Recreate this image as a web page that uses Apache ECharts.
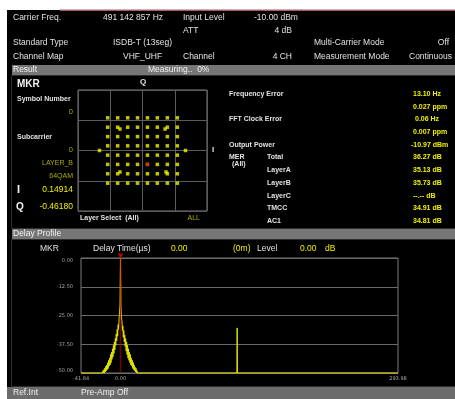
<!DOCTYPE html>
<html>
<head>
<meta charset="utf-8">
<script src="https://cdn.jsdelivr.net/npm/echarts@6/dist/echarts.min.js"></script>
<style>
  html, body { margin: 0; padding: 0; background: #ffffff; }
  #screen { width: 455px; height: 399px; }
</style>
</head>
<body>
<div id="screen"></div>
<script>
// ---- Measurement setup ----
const setupLeft = [
  ['Carrier Freq.', '491 142 857 Hz'],
  ['Standard Type', 'ISDB-T (13seg)'],
  ['Channel Map', 'VHF_UHF']
];
const inputLevel = '-10.00 dBm';
const attValue = '4 dB';
const channelValue = '4 CH';
const multiCarrierMode = 'Off';
const measurementMode = 'Continuous';
const measuringState = 'Measuring..  0%';

// ---- Constellation (normalised I/Q) ----
const qamLevels = [-1.08, -0.77, -0.46, -0.154, 0.154, 0.46, 0.77, 1.08];
const pilotPoints = [[-1.333, 0], [1.333, 0]];
const spreadPoints = [[-0.70, 0.71], [0.70, 0.71], [-0.70, -0.71], [0.73, -0.71]];
const markerI = 0.14914;
const markerQ = -0.46180;
const symbolNumber = '0';
const subcarrier = '0';
const markerLayer = 'LAYER_B';
const markerModulation = '64QAM';
const layerSelect = 'ALL';

// ---- Result values ----
const resultLabels = ['Frequency Error', '', 'FFT Clock Error', '', 'Output Power'];
const resultValues = ['13.10 Hz', '0.027 ppm', '0.06 Hz', '0.007 ppm', '-10.97 dBm'];
const merLabels = ['Total', 'LayerA', 'LayerB', 'LayerC', 'TMCC', 'AC1'];
const merValues = ['36.27 dB', '35.13 dB', '35.73 dB', '--.-- dB', '34.91 dB', '34.81 dB'];

// ---- Delay profile ----
const delayMin = -41.84;
const delayMax = 293.98;
const levelMin = -50;
const levelMax = 0;
const levelStep = 12.5;
const delayLabelValues = [-41.84, 0, 293.98];
const markerTime = 0.00;
const markerLevel = 0.00;
const markerDistance = '(0m)';
// main path (µs, dB)
const profileTime = [
  -41.84, -19, -18.5, -18, -17.5, -17, -16.5, -16, -15.5, -15, -14.5, -14, -13.5, -13,
  -12.5, -12, -11.5, -11, -10.5, -10, -9.5, -9, -8.5, -8, -7.5, -7, -6.5, -6, -5.5, -5,
  -4.5, -4, -3.5, -3, -2.5, -2, -1.5, -1, -0.5, 0, 0.5, 1, 1.5, 2, 2.5, 3, 3.5, 4, 4.5,
  5, 5.5, 6, 6.5, 7, 7.5, 8, 8.5, 9, 9.5, 10, 10.5, 11, 11.5, 12, 12.5, 13, 13.5, 14,
  14.5, 15, 15.5, 16, 16.5, 17, 17.5, 18,
  123.3, 123.6, 123.9, 293.98
];
const profileLevel = [
  -50, -50, -49, -50, -48.5, -50, -47.8, -49.5, -47, -49, -46.5, -48.5, -45.5, -48,
  -44.5, -47, -43.5, -46.5, -42, -45.5, -41, -44, -39.5, -43, -38, -41.5, -36.5, -40, -35, -38,
  -33, -36, -31, -34, -29, -31, -26.5, -27, -20, 0, -21, -26, -27, -31.5, -29.5, -34.5, -31.5, -36.5, -33.5,
  -38.5, -35, -40.5, -36.5, -42, -38, -43.5, -39.5, -44.5, -41, -45.5, -42, -46.5, -43.5, -47, -44.5, -48, -45.5, -48.5,
  -46.5, -49, -47.5, -49.5, -48, -50, -49, -50,
  -50, -30.4, -50, -50
];

// ---- build chart data ----
const constellation = [];
qamLevels.forEach(q => qamLevels.forEach(i => constellation.push([i, q])));
pilotPoints.forEach(p => constellation.push(p));
spreadPoints.forEach(p => constellation.push(p));
const profileData = profileTime.map((t, k) => [t, profileLevel[k]]);

// ---- screen layout helpers ----
const FONT = "'Liberation Sans', Arial, sans-serif";
const WHITE = '#e2e2e2';
const YELLOW = '#f0f000';
const OLIVE = '#aaaa00';
const BAR = '#767676';

function text(x, y, s, opt) {
  opt = opt || {};
  return {
    type: 'text', x: x, y: y, z: 20, silent: true,
    style: {
      text: s,
      fill: opt.color || WHITE,
      fontSize: opt.size || 8.5,
      fontWeight: opt.bold ? 'bold' : 'normal',
      fontFamily: FONT,
      textAlign: opt.align || 'left',
      textVerticalAlign: 'middle'
    }
  };
}
function rect(x, y, w, h, fill, z) {
  return { type: 'rect', z: z == null ? -10 : z, silent: true,
    shape: { x: x, y: y, width: w, height: h }, style: { fill: fill } };
}
function frame(x, y, w, h, stroke) {
  return { type: 'rect', z: -9, silent: true,
    shape: { x: x, y: y, width: w, height: h },
    style: { fill: 'none', stroke: stroke, lineWidth: 1 } };
}

const g = [];
// screen body
g.push(rect(7, 10, 448, 389, '#000000'));
g.push(rect(60, 9.5, 395, 1.5, '#a85a6c', -8));
// section bars
g.push(rect(12, 65, 443, 10, BAR, -8));
g.push(rect(12, 229, 443, 10, BAR, -8));
g.push(rect(7, 387, 448, 12, '#6c6c6c', -8));
g.push(frame(11.5, 75.5, 450, 153, '#2e2e2e'));
g.push(frame(11.5, 239.5, 450, 147, '#2e2e2e'));

// setup header
const setupRowY = [18, 43, 57];
const setupValueX = [103, 113, 123];
setupLeft.forEach((r, k) => {
  g.push(text(13, setupRowY[k], r[0]));
  g.push(text(setupValueX[k], setupRowY[k], r[1]));
});
g.push(text(183, 18, 'Input Level'));
g.push(text(254, 18, inputLevel));
g.push(text(183, 31, 'ATT'));
g.push(text(292, 31, attValue, { align: 'right' }));
g.push(text(183, 57, 'Channel'));
g.push(text(292, 57, channelValue, { align: 'right' }));
g.push(text(314, 43, 'Multi-Carrier Mode'));
g.push(text(449, 43, multiCarrierMode, { align: 'right' }));
g.push(text(314, 57, 'Measurement Mode'));
g.push(text(409, 57, measurementMode));

// Result bar
g.push(text(13, 70, 'Result', { color: '#f0f0f0' }));
g.push(text(148, 70, measuringState, { color: '#f0f0f0' }));

// marker readout beside constellation
g.push(text(17, 84, 'MKR', { bold: true, size: 10, color: '#f2f2f2' }));
g.push(text(17, 99, 'Symbol Number', { bold: true, size: 7 }));
g.push(text(73, 112, symbolNumber, { color: OLIVE, size: 7.5, align: 'right' }));
g.push(text(17, 137, 'Subcarrier', { bold: true, size: 7 }));
g.push(text(73, 150, subcarrier, { color: OLIVE, size: 7.5, align: 'right' }));
g.push(text(73, 163, markerLayer, { color: OLIVE, size: 7, align: 'right' }));
g.push(text(73, 176, markerModulation, { color: OLIVE, size: 7, align: 'right' }));
g.push(text(17, 190, 'I', { bold: true, size: 11, color: '#f2f2f2' }));
g.push(text(73, 190, markerI.toFixed(5), { color: YELLOW, size: 8.5, align: 'right' }));
g.push(text(16, 207, 'Q', { bold: true, size: 10, color: '#f2f2f2' }));
g.push(text(73, 207, markerQ.toFixed(5), { color: YELLOW, size: 8.5, align: 'right' }));
g.push(text(143, 82, 'Q', { bold: true, size: 8, align: 'center' }));
g.push(text(212, 150, 'I', { bold: true, size: 8 }));
g.push(text(80, 218, 'Layer Select  (All)', { bold: true, size: 7 }));
g.push(text(200, 218, layerSelect, { color: OLIVE, size: 7, align: 'right' }));

// numeric results
const rowY0 = 94, rowStep = 12.7;
const valueX = [413, 413, 415, 413, 411];
resultLabels.forEach((s, k) => {
  if (s) g.push(text(229, rowY0 + k * rowStep, s, { bold: true, size: 7 }));
  g.push(text(valueX[k], rowY0 + k * rowStep, resultValues[k], { bold: true, size: 7, color: YELLOW }));
});
g.push(text(229, rowY0 + 5 * rowStep, 'MER', { bold: true, size: 7 }));
g.push(text(232, rowY0 + 5.55 * rowStep, '(All)', { bold: true, size: 7 }));
merLabels.forEach((s, k) => {
  const y = rowY0 + (5 + k) * rowStep;
  g.push(text(267, y, s, { bold: true, size: 7 }));
  g.push(text(413, y, merValues[k], { bold: true, size: 7, color: YELLOW }));
});

// Delay profile header
g.push(text(13, 234, 'Delay Profile', { color: '#f0f0f0' }));
g.push(text(40, 249, 'MKR'));
g.push(text(93, 249, 'Delay Time(\u00b5s)'));
g.push(text(171, 249, markerTime.toFixed(2), { color: YELLOW }));
g.push(text(233, 249, markerDistance, { color: YELLOW }));
g.push(text(257, 249, 'Level'));
g.push(text(300, 249, markerLevel.toFixed(2), { color: YELLOW }));
g.push(text(325, 249, 'dB', { color: YELLOW }));

// status bar
g.push(text(13, 393, 'Ref.Int', { color: '#f0f0f0' }));
g.push(text(81, 393, 'Pre-Amp Off', { color: '#f0f0f0' }));

const chart = echarts.init(document.getElementById('screen'), null, { renderer: 'canvas' });
chart.setOption({
  animation: false,
  backgroundColor: 'transparent',
  graphic: { elements: g },
  grid: [
    { left: 78, top: 90, width: 129, height: 121, show: true, borderColor: '#7a7a7a', borderWidth: 1, backgroundColor: 'transparent' },
    { left: 81, top: 258, width: 317, height: 115, show: true, borderColor: '#7a7a7a', borderWidth: 1, backgroundColor: 'transparent' }
  ],
  xAxis: [
    {
      gridIndex: 0, type: 'value', min: -2, max: 2, interval: 1,
      axisLine: { show: false }, axisTick: { show: false }, axisLabel: { show: false },
      splitLine: { show: true, lineStyle: { color: '#5c5c5c', width: 1 } }
    },
    {
      gridIndex: 1, type: 'value', min: delayMin, max: delayMax,
      axisLine: { show: false }, axisTick: { show: false },
      splitLine: { show: false },
      axisLabel: {
        customValues: delayLabelValues, showMinLabel: true, showMaxLabel: true,
        formatter: v => v.toFixed(2), color: '#a8a8a8', fontSize: 5, margin: 3,
        fontFamily: "'DejaVu Sans', sans-serif"
      }
    }
  ],
  yAxis: [
    {
      gridIndex: 0, type: 'value', min: -2, max: 2, interval: 1,
      axisLine: { show: false }, axisTick: { show: false }, axisLabel: { show: false },
      splitLine: { show: true, lineStyle: { color: '#5c5c5c', width: 1 } }
    },
    {
      gridIndex: 1, type: 'value', min: levelMin, max: levelMax, interval: levelStep,
      axisLine: { show: false }, axisTick: { show: false },
      splitLine: { show: true, lineStyle: { color: '#6a6a6a', width: 1 } },
      axisLabel: {
        formatter: v => v.toFixed(2), color: '#a8a8a8', fontSize: 5, margin: 8,
        fontFamily: "'DejaVu Sans', sans-serif",
        verticalAlignMinLabel: 'bottom', verticalAlignMaxLabel: 'top'
      }
    }
  ],
  series: [
    {
      type: 'scatter', xAxisIndex: 0, yAxisIndex: 0, data: constellation,
      symbol: 'rect', symbolSize: 3.5, itemStyle: { color: '#f2f200' }, silent: true, z: 3
    },
    {
      type: 'scatter', xAxisIndex: 0, yAxisIndex: 0, data: [[markerI, markerQ]],
      symbol: 'rect', symbolSize: 3.2, itemStyle: { color: '#c81010' }, silent: true, z: 4
    },
    {
      type: 'line', xAxisIndex: 1, yAxisIndex: 1, data: profileData,
      showSymbol: false, symbol: 'none', clip: false,
      lineStyle: { color: '#e4e400', width: 1 }, silent: true, z: 3
    },
    {
      type: 'line', xAxisIndex: 1, yAxisIndex: 1,
      data: [[markerTime, levelMin], [markerTime, levelMax]],
      showSymbol: false, symbol: 'none',
      lineStyle: { color: 'rgba(190, 0, 0, 0.6)', width: 1.5 }, silent: true, z: 5
    },
    {
      type: 'scatter', xAxisIndex: 1, yAxisIndex: 1, data: [[markerTime, markerLevel]],
      symbol: 'triangle', symbolRotate: 180, symbolSize: [6, 5], symbolOffset: [0, -2],
      itemStyle: { color: '#d01010' }, silent: true, z: 6
    }
  ]
});
</script>
</body>
</html>
